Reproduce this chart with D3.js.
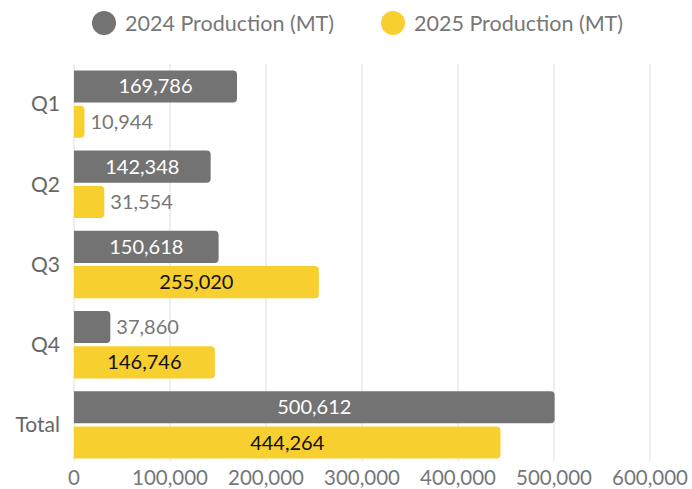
<!DOCTYPE html>
<html>
<head>
<meta charset="utf-8">
<script src="https://cdn.jsdelivr.net/npm/d3@7"></script>
<style>
  body { margin: 0; background: #fff; }
  svg { font-family: Lato, "Open Sans", sans-serif; }
</style>
</head>
<body>
<svg id="chart" width="692" height="489"></svg>
<script>
const categories = ["Q1", "Q2", "Q3", "Q4", "Total"];
const seriesNames = ["2024 Production (MT)", "2025 Production (MT)"];
const values2024 = [169786, 142348, 150618, 37860, 500612];
const values2025 = [10944, 31554, 255020, 146746, 444264];
const xTicks = [0, 100000, 200000, 300000, 400000, 500000, 600000];

const colors = ["#737373", "#f7cf2f"];
const textInside = ["#ffffff", "#111111"];

const svg = d3.select("#chart");
const margin = { top: 64, right: 42, bottom: 24, left: 74 };
const width = 692 - margin.left - margin.right;
const height = 489 - margin.top - margin.bottom;

const rows = categories.map((c, i) => ({ cat: c, vals: [values2024[i], values2025[i]] }));

const x = d3.scaleLinear().domain([0, 600000]).range([0, width]);
const y = d3.scaleBand().domain(categories).range([0, height]).paddingInner(0.16).paddingOuter(0.08);
const ySub = d3.scaleBand().domain([0, 1]).range([0, y.bandwidth()]).paddingInner(0.09);

const g = svg.append("g").attr("transform", `translate(${margin.left},${margin.top})`);

// grid
g.append("g")
    .selectAll("line")
    .data(xTicks)
    .join("line")
    .attr("x1", d => x(d)).attr("x2", d => x(d))
    .attr("y1", 0).attr("y2", height - 4)
    .attr("stroke", "#dedede")
    .attr("stroke-width", 1);

// x axis labels
g.append("g")
    .selectAll("text")
    .data(xTicks)
    .join("text")
    .attr("x", d => x(d))
    .attr("y", height + 20)
    .attr("text-anchor", "middle")
    .attr("fill", "#777")
    .attr("font-size", 20.5)
    .text(d => d3.format(",")(d));

// category labels
g.append("g")
    .selectAll("text")
    .data(categories)
    .join("text")
    .attr("x", -14)
    .attr("y", d => y(d) + y.bandwidth() / 2)
    .attr("dy", "0.35em")
    .attr("text-anchor", "end")
    .attr("fill", "#666")
    .attr("font-size", 21)
    .text(d => d);

function barPath(w, h, r) {
    r = Math.min(r, w, h / 2);
    return `M0,0H${w - r}Q${w},0 ${w},${r}V${h - r}Q${w},${h} ${w - r},${h}H0Z`;
}

const groups = g.append("g")
    .selectAll("g")
    .data(rows)
    .join("g")
    .attr("transform", d => `translate(0,${y(d.cat)})`);

const bars = groups.selectAll("g")
    .data(d => d.vals.map((v, s) => ({ v, s })))
    .join("g")
    .attr("transform", d => `translate(0,${ySub(d.s)})`);

bars.append("path")
    .attr("d", d => barPath(x(d.v), ySub.bandwidth(), 4))
    .attr("fill", d => colors[d.s]);

bars.append("text")
    .attr("font-size", 20)
    .attr("dy", "0.35em")
    .attr("y", ySub.bandwidth() / 2)
    .text(d => d3.format(",")(d.v))
    .each(function (d) {
        const tw = this.getComputedTextLength();
        const bw = x(d.v);
        const t = d3.select(this);
        if (tw + 12 < bw) {
            t.attr("x", bw / 2).attr("text-anchor", "middle").attr("fill", textInside[d.s]);
        } else {
            t.attr("x", bw + 6).attr("text-anchor", "start").attr("fill", "#777");
        }
    });

// legend
const legendX = [104, 393];
const legend = svg.append("g")
    .selectAll("g")
    .data(seriesNames)
    .join("g")
    .attr("transform", (d, i) => `translate(${legendX[i]},23)`);

legend.append("circle")
    .attr("r", 12)
    .attr("fill", (d, i) => colors[i]);

legend.append("text")
    .attr("x", 21)
    .attr("dy", "0.35em")
    .attr("font-size", 21.5)
    .attr("fill", "#777")
    .text(d => d);
</script>
</body>
</html>
